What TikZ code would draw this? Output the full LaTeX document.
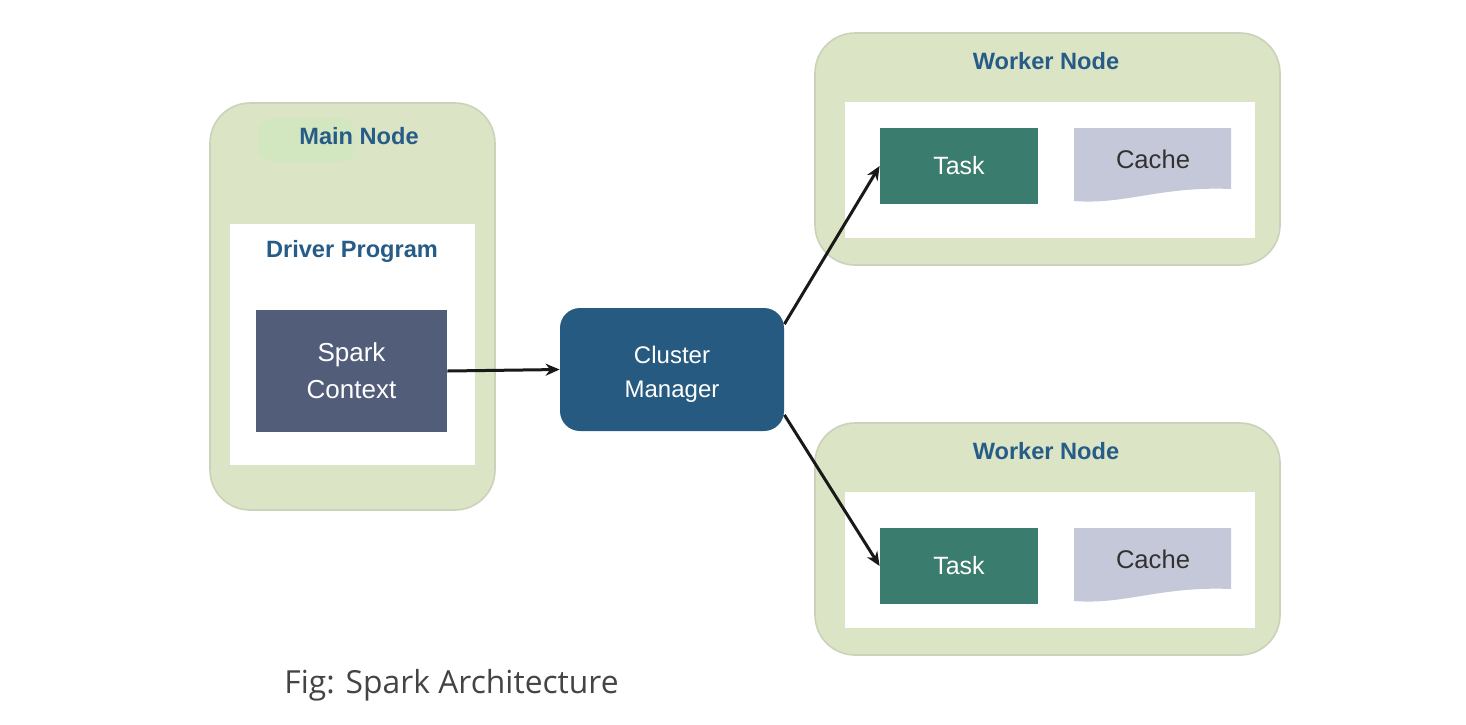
\documentclass[tikz,border=0pt]{standalone}
\usepackage{fontspec}
\setmainfont{Liberation Sans}
\newfontfamily\captionfont{Open Sans}
\usetikzlibrary{arrows.meta}
\definecolor{nodegreen}{RGB}{219,228,196}
\definecolor{patchgreen}{RGB}{210,231,192}
\definecolor{edgegreen}{RGB}{203,210,186}
\definecolor{titleblue}{RGB}{38,92,135}
\definecolor{sparkgray}{RGB}{82,93,122}
\definecolor{clusterblue}{RGB}{38,90,128}
\definecolor{taskgreen}{RGB}{58,125,110}
\definecolor{cachegray}{RGB}{197,200,216}
\definecolor{textgray}{RGB}{50,50,50}
\definecolor{capgray}{RGB}{68,68,68}

\begin{document}
\begin{tikzpicture}[x=0.5pt, y=-0.5pt,
  outer/.style={fill=nodegreen, draw=edgegreen, line width=0.8pt, rounded corners=20pt, inner sep=0pt},
  inner/.style={fill=white, inner sep=0pt},
  title/.style={text=titleblue, font=\fontsize{11.8}{14}\selectfont\bfseries},
  box/.style={inner sep=0pt, text=white, align=center},
  link/.style={-{Stealth[length=7pt,width=6pt]}, line width=1.5pt, black!90},
  ]
\useasboundingbox (0,0) rectangle (1466,724);
% main node
\node (main) [outer, minimum width=142.5pt, minimum height=203.5pt] at (352.5,306.5) {};
\fill[patchgreen, rounded corners=8pt] (258,118) rectangle (355,162);
\node (mainlabel) [title] at (359,136) {Main Node};
\node (driver) [inner, minimum width=122.5pt, minimum height=120.5pt] at (352.5,344.5) {};
\node (driverlabel) [title] at (352,251) {Driver Program};
\node (spark) [box, fill=sparkgray, minimum width=95.5pt, minimum height=61pt,
  font=\fontsize{13}{18.5}\selectfont] at (351.5,371) {Spark\\Context};
% cluster manager
\node (cluster) [box, fill=clusterblue, rounded corners=10pt, minimum width=112pt, minimum height=61.5pt,
  font=\fontsize{12}{17}\selectfont] at (672,369.5) {\rule{0pt}{13pt}Cluster\\Manager};
% worker nodes
\foreach \w/\dy/\dt in {A/0/0, B/390/400} {
  \begin{scope}[shift={(0,\dy)}]
    \node (worker\w) [outer, minimum width=232.5pt, minimum height=116pt] at (1047.5,149) {};
    \node (box\w) [inner, minimum width=205pt, minimum height=68pt] at (1050,170) {};
    \node (workerlabel\w) [title] at (1046,61) {Worker Node};
  \end{scope}
  \begin{scope}[shift={(0,\dt)}]
    \node (task\w) [box, fill=taskgreen, minimum width=79pt, minimum height=38pt,
      font=\fontsize{12.5}{15}\selectfont] at (959,166) {Task};
    \fill[cachegray] (1074,128) -- (1231,128) -- (1231,189)
      .. controls (1160,186) and (1125,205) .. (1074,201) -- cycle;
    \node (cache\w) [text=textgray, inner sep=0pt, font=\fontsize{12.8}{15}\selectfont] at (1153,159) {Cache};
  \end{scope}
}
% connectors
\draw[link] (spark.east) -- (cluster.west);
\draw[link] (cluster.22) -- (taskA.west);
\draw[link] (cluster.-22) -- (taskB.west);
\node (caption) [anchor=base west, inner sep=0pt, text=capgray,
  font=\captionfont\fontsize{15.9}{19}\selectfont] at (284,693) {Fig: Spark Architecture};
\end{tikzpicture}
\end{document}
